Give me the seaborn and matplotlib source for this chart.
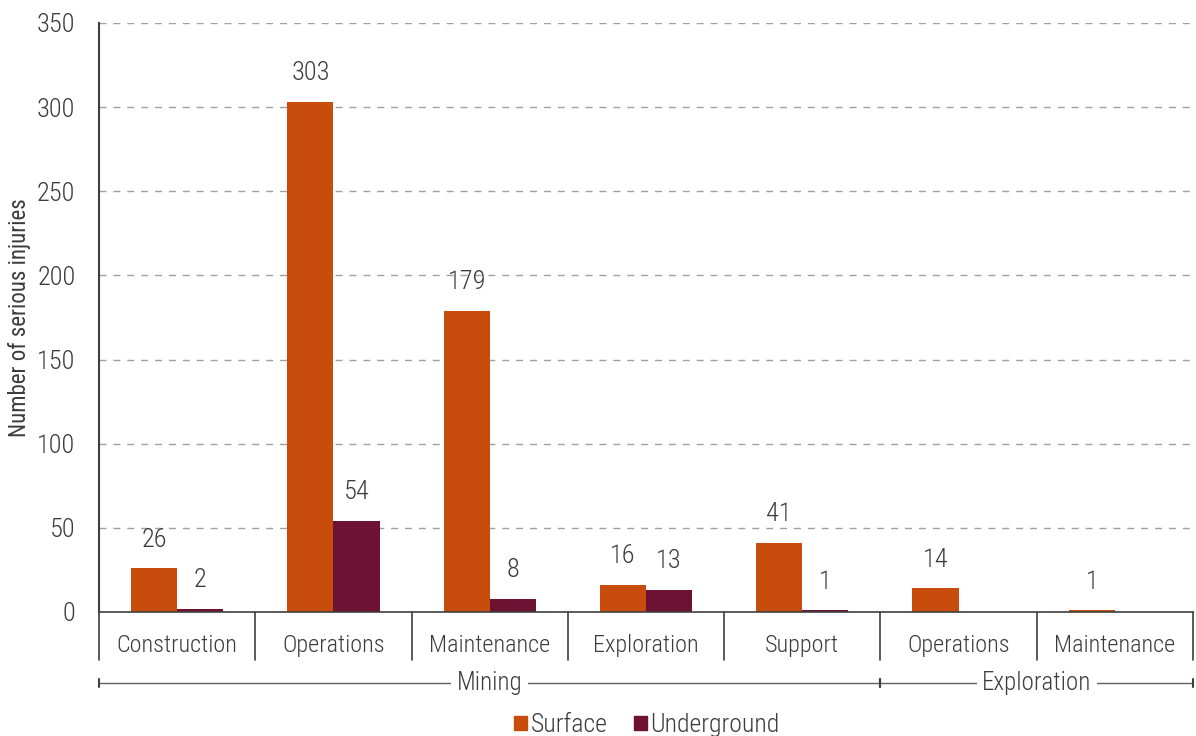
import matplotlib
matplotlib.use("Agg")
import matplotlib.pyplot as plt
import matplotlib.transforms as mtransforms
import numpy as np
import pandas as pd
import seaborn as sns

# Serious injuries by activity and location
activities = ["Construction", "Operations", "Maintenance", "Exploration",
              "Support", "Operations", "Maintenance"]
sectors = ["Mining", "Mining", "Mining", "Mining", "Mining",
           "Exploration", "Exploration"]
surface = [26, 303, 179, 16, 41, 14, 1]
underground = [2, 54, 8, 13, 1, np.nan, np.nan]
locations = ["Surface", "Underground"]
colors = ["#C84D0C", "#6D1233"]
y_ticks = [0, 50, 100, 150, 200, 250, 300, 350]

keys = [f"{s}|{a}" for s, a in zip(sectors, activities)]
df = pd.DataFrame({
    "key": keys * 2,
    "location": ["Surface"] * len(keys) + ["Underground"] * len(keys),
    "injuries": surface + underground,
})

sns.set_theme(style="white")
plt.rcParams["font.family"] = ["Roboto Condensed", "DejaVu Sans Condensed",
                               "Roboto", "DejaVu Sans"]
plt.rcParams["font.stretch"] = "condensed"
plt.rcParams["font.weight"] = "light"
text_color = "#3C3C3C"

fig = plt.figure(figsize=(11.96, 7.36), dpi=100)
ax = fig.add_axes([0.0828, 0.1685, 0.9147, 0.8003])

sns.barplot(data=df, x="key", y="injuries", hue="location", order=keys,
            hue_order=locations, palette=colors, width=0.59, saturation=1,
            linewidth=0, ax=ax, legend=True)

for container in ax.containers:
    ax.bar_label(container, fmt="%d", padding=12, fontsize=19, color=text_color)

ax.set_xlim(-0.5, len(keys) - 0.5)
ax.set_ylim(0, 350)
ax.set_yticks(y_ticks)
ax.tick_params(axis="y", length=0, pad=17, labelsize=19, labelcolor=text_color)
ax.set_xticks(range(len(keys)))
ax.set_xticklabels(activities)
ax.tick_params(axis="x", length=0, pad=16, labelsize=17.5, labelcolor=text_color)
ax.set_xlabel("")
ax.set_ylabel("Number of serious injuries", fontsize=16.5, color=text_color)
ax.yaxis.set_label_coords(-0.062, 0.5)

ax.grid(axis="y", linestyle=(0, (5, 5)), color="#A0A0A0", linewidth=1)
ax.set_axisbelow(True)
for side in ["top", "right"]:
    ax.spines[side].set_visible(False)
ax.spines["left"].set_color("#404040")
ax.spines["left"].set_linewidth(1.5)
ax.spines["bottom"].set_color("#404040")
ax.spines["bottom"].set_linewidth(1.2)

trans = mtransforms.blended_transform_factory(ax.transData, ax.transAxes)

# Category separators below the axis
for i in range(len(keys) + 1):
    ax.plot([i - 0.5, i - 0.5], [0, -0.0815], transform=trans, color="#404040",
            linewidth=1.2, clip_on=False)

# Sector brackets with labels
group_y = -0.1205
bounds = {}
for i, s in enumerate(sectors):
    lo, hi = bounds.get(s, (i, i))
    bounds[s] = (min(lo, i), max(hi, i))
for s, (lo, hi) in bounds.items():
    x0, x1 = lo - 0.5, hi + 0.5
    ax.plot([x0, x1], [group_y, group_y], transform=trans, color="#606060",
            linewidth=1.0, clip_on=False, zorder=3)
    for xe in (x0, x1):
        ax.plot([xe, xe], [group_y - 0.007, group_y + 0.007], transform=trans,
                color="#404040", linewidth=1.5, clip_on=False, zorder=3)
    ax.text((x0 + x1) / 2, group_y, s, transform=trans, ha="center", va="center",
            fontsize=18, color=text_color, zorder=4,
            bbox=dict(facecolor="white", edgecolor="none", pad=4))

ax.get_legend().remove()
handles = [plt.Rectangle((0, 0), 1, 1, color=c) for c in colors]
fig.legend(handles, locations, loc="center", bbox_to_anchor=(0.541, 0.015),
           ncol=2, frameon=False, fontsize=18.5, handlelength=0.5,
           handleheight=0.5, handletextpad=0.15, columnspacing=1.0,
           labelcolor=text_color)

fig.savefig("out.png", dpi=100)
